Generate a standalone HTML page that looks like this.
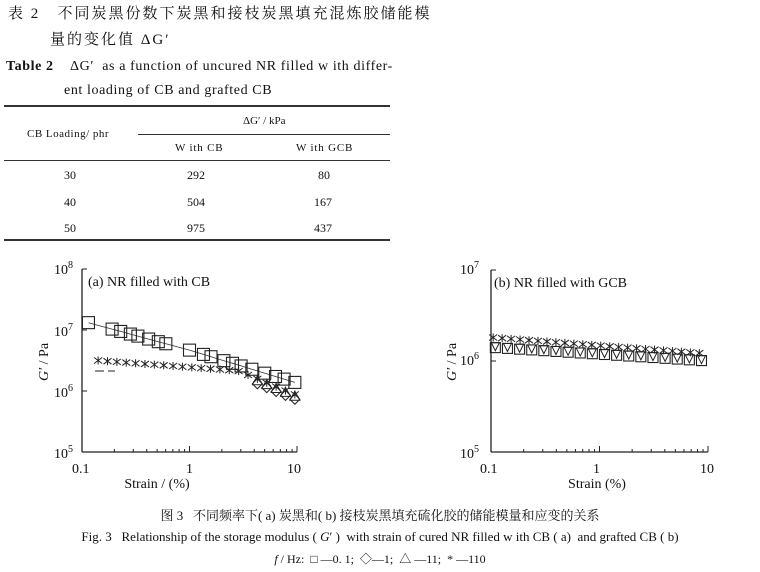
<!DOCTYPE html>
<html><head><meta charset="utf-8">
<style>
body{margin:0;background:#fff;}
#c{position:relative;width:760px;height:572px;overflow:hidden;font-family:"Liberation Serif","Noto Serif CJK SC",serif;color:#111;}
.t{position:absolute;white-space:nowrap;}
.r{position:absolute;background:#333;}
</style></head><body><div id="c">
<div class="t" style="left:8px;top:2px;font-size:15px;letter-spacing:2px;">表 2&nbsp;&nbsp;&nbsp;不同炭黑份数下炭黑和接枝炭黑填充混炼胶储能模</div>
<div class="t" style="left:50px;top:28px;font-size:15px;letter-spacing:2px;">量的变化值 ΔG′</div>
<div class="t" style="left:6px;top:59px;font-size:14px;letter-spacing:0.6px;"><b>Table 2</b>&nbsp;&nbsp;&nbsp; ΔG′&nbsp; as a function of uncured NR filled w ith differ-</div>
<div class="t" style="left:64px;top:83px;font-size:14px;letter-spacing:0.6px;">ent loading of CB and grafted CB</div>
<div class="r" style="left:4px;top:105px;width:386px;height:2px;"></div>
<div class="t" style="left:243px;top:115px;font-size:11px;">ΔG′ / kPa</div>
<div class="t" style="left:27px;top:128px;font-size:11px;letter-spacing:.5px;">CB Loading/ phr</div>
<div class="r" style="left:138px;top:134px;width:252px;height:1px;"></div>
<div class="t" style="left:175px;top:142px;font-size:11px;letter-spacing:.8px;">W ith CB</div>
<div class="t" style="left:296px;top:142px;font-size:11px;letter-spacing:.8px;">W ith GCB</div>
<div class="r" style="left:4px;top:160px;width:386px;height:1px;"></div>
<div class="t" style="left:64px;top:168px;font-size:12px;">30</div>
<div class="t" style="left:187px;top:168px;font-size:12px;">292</div>
<div class="t" style="left:318px;top:168px;font-size:12px;">80</div>
<div class="t" style="left:64px;top:195px;font-size:12px;">40</div>
<div class="t" style="left:187px;top:195px;font-size:12px;">504</div>
<div class="t" style="left:314px;top:195px;font-size:12px;">167</div>
<div class="t" style="left:64px;top:221px;font-size:12px;">50</div>
<div class="t" style="left:187px;top:221px;font-size:12px;">975</div>
<div class="t" style="left:314px;top:221px;font-size:12px;">437</div>
<div class="r" style="left:4px;top:239px;width:386px;height:2px;"></div>

<svg id="s" width="760" height="572" style="position:absolute;left:0;top:0" font-family="Liberation Serif, serif" fill="#111">
<text x="54" y="274" font-size="14">10<tspan dy="-6" font-size="10">8</tspan></text>
<text x="54" y="336" font-size="14">10<tspan dy="-6" font-size="10">7</tspan></text>
<text x="54" y="397" font-size="14">10<tspan dy="-6" font-size="10">6</tspan></text>
<text x="54" y="458" font-size="14">10<tspan dy="-6" font-size="10">5</tspan></text>
<text x="72" y="473" font-size="14">0.1</text>
<text x="186" y="473" font-size="14">1</text>
<text x="287" y="473" font-size="14">10</text>
<text x="157" y="488" font-size="14" text-anchor="middle">Strain / (%)</text>
<text transform="translate(48,362) rotate(-90)" font-size="14" text-anchor="middle"><tspan font-style="italic">G′</tspan> / Pa</text>
<text x="88" y="286" font-size="14">(a) NR filled with CB</text>

<text x="460" y="274" font-size="14">10<tspan dy="-6" font-size="10">7</tspan></text>
<text x="460" y="365" font-size="14">10<tspan dy="-6" font-size="10">6</tspan></text>
<text x="460" y="458" font-size="14">10<tspan dy="-6" font-size="10">5</tspan></text>
<text x="480" y="473" font-size="14">0.1</text>
<text x="593" y="473" font-size="14">1</text>
<text x="700" y="473" font-size="14">10</text>
<text x="597" y="488" font-size="14" text-anchor="middle">Strain (%)</text>
<text transform="translate(456,362) rotate(-90)" font-size="14" text-anchor="middle"><tspan font-style="italic">G′</tspan> / Pa</text>
<text x="494" y="287" font-size="14">(b) NR filled with GCB</text>
<g id="g"></g>
</svg>

<div class="t" style="left:0;width:760px;text-align:center;top:505px;font-size:13px;">图 3&nbsp;&nbsp;&nbsp;不同频率下( a) 炭黑和( b) 接枝炭黑填充硫化胶的储能模量和应变的关系</div>
<div class="t" style="left:0;width:760px;text-align:center;top:529px;font-size:13px;">Fig. 3&nbsp;&nbsp;&nbsp;Relationship of the storage modulus ( <i>G</i>′ )&nbsp; with strain of cured NR filled w ith CB ( a)&nbsp; and grafted CB ( b)</div>
<div class="t" style="left:0;width:760px;text-align:center;top:550px;font-size:12px;"><i>f</i> / Hz:&nbsp; □ —0. 1;&nbsp; ◇—1;&nbsp; △ —11;&nbsp; * —110</div>
</div>
<script>
var g=document.getElementById('g'),h='';
function L(a,b,c,d,w){h+='<line x1="'+a+'" y1="'+b+'" x2="'+c+'" y2="'+d+'" stroke="#222" stroke-width="'+(w||1)+'"/>';}
function axes(x0,x1,yt,yb,dec){
 L(x0,yt,x0,yb,1.3);L(x0,yb,x1,yb,1.3);
 var n=(yb-yt)/dec;
 for(var i=0;i<=n;i++){var y=yb-i*dec;L(x0,y,x0+5,y);}
 var dw=(x1-x0)/2;
 for(var d=0;d<2;d++)for(var k=1;k<=10;k++){var x=x0+d*dw+Math.log10(k)*dw;L(x,yb,x,yb-(k==1||k==10?6:3));}
}
axes(82,297,269,452,61);
axes(491,708,270,452,91);
function sq(x,y,s){h+='<rect x="'+(x-s)+'" y="'+(y-s)+'" width="'+2*s+'" height="'+2*s+'" fill="none" stroke="#222" stroke-width="1.1"/>';}
function st(x,y){L(x-4,y-3,x+4,y+3);L(x-4,y+3,x+4,y-3);L(x,y-4,x,y+4);}
function di(x,y){h+='<path d="M'+x+' '+(y-5)+'L'+(x+5)+' '+y+'L'+x+' '+(y+5)+'L'+(x-5)+' '+y+'Z" fill="none" stroke="#222"/>';}
function tr(x,y){h+='<path d="M'+x+' '+(y-5)+'L'+(x+5)+' '+(y+4)+'L'+(x-5)+' '+(y+4)+'Z" fill="none" stroke="#222"/>';}
function tv(x,y){h+='<path d="M'+(x-4)+' '+(y-4)+'L'+(x+4)+' '+(y-4)+'L'+x+' '+(y+4)+'Z" fill="none" stroke="#222"/>';}
function ax(v){return 82+(Math.log10(v)+1)*107.5}
function ay(v){return 269+(8-Math.log10(v))*61}
var xs=[-0.94,-0.72,-0.64,-0.55,-0.48,-0.38,-0.29,-0.22,0,0.13,0.2,0.32,0.4,0.48,0.58,0.7,0.8,0.88,0.98];
var pl='',pts=[];
xs.forEach(function(lx,i){var l=lx<0?7.13-0.48*(lx+0.96):6.67-0.54*lx;pts.push([ax(Math.pow(10,lx)),ay(Math.pow(10,l))]);});
pts.forEach(function(p,i){pl+=(i?'L':'M')+p[0].toFixed(1)+' '+p[1].toFixed(1);});
h+='<path d="'+pl+'" fill="none" stroke="#333" stroke-width="0.8"/>';
pts.forEach(function(p){sq(p[0],p[1],6);});
for(var i=0;i<22;i++){var lx=-0.85+i*1.83/21;var v=Math.pow(10,lx);
 var ll=6.5-0.13*(lx+0.85)-(lx>0.45?0.6*(lx-0.45):0);
 st(ax(v),ay(Math.pow(10,ll)));
 if(lx>0.55){tr(ax(v),ay(Math.pow(10,ll-0.03)));di(ax(v),ay(Math.pow(10,ll-0.08)));}
}
L(95,371,104,371);L(108,371,115,371);
function bx(v){return 491+(Math.log10(v)+1)*108.5}
function by(v){return 270+(7-Math.log10(v))*91}
for(var i=0;i<18;i++){var lx=-0.96+i*1.9/17;var v=Math.pow(10,lx);
 var l=6.15-0.075*(lx+1);sq(bx(v),by(Math.pow(10,l)),5);
 tv(bx(v),by(Math.pow(10,l+0.01)));}
for(var i=0;i<24;i++){var lx=-0.98+i*1.9/23;var v=Math.pow(10,lx);
 var l=6.26-0.09*(lx+1);st(bx(v),by(Math.pow(10,l)));}
g.innerHTML=h;
</script>
</body></html>
